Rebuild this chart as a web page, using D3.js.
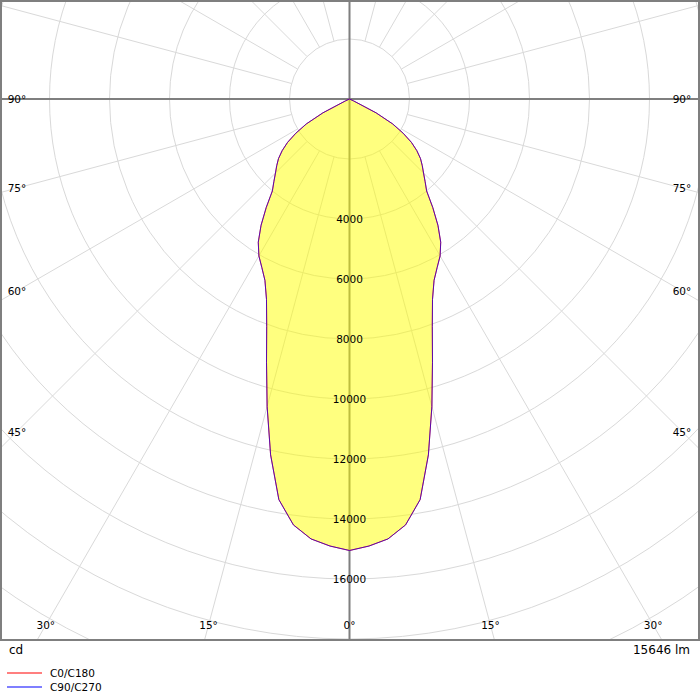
<!DOCTYPE html>
<html>
<head>
<meta charset="utf-8">
<script src="https://cdn.jsdelivr.net/npm/d3@7"></script>
<style>
html,body{margin:0;padding:0;background:#fff;}
svg{display:block;font-family:"DejaVu Sans",sans-serif;}
</style>
</head>
<body>
<svg id="chart" width="700" height="700"></svg>
<script>
// Gamma angles (degrees from nadir)
const angles = [0,2.5,5,7.5,10,12.5,15,17.5,20,22.5,25,27.5,30,32.5,35,37.5,40,42.5,45,47.5,50,52.5,55,57.5,60,62.5,65,67.5,70,75,80,85,90];
// Luminous intensity (cd)
const c0c180 = [15050,14915,14720,14320,13560,12150,10610,9200,8070,7230,6670,6330,6040,5660,5140,4560,4000,3730,3490,3290,3090,2830,2520,2120,1660,1000,150,0,0,0,0,0,0];
const c90c270 = [15050,14915,14720,14320,13560,12150,10610,9200,8070,7230,6670,6330,6040,5660,5140,4560,4000,3730,3490,3290,3090,2830,2520,2120,1660,1000,150,0,0,0,0,0,0];
const ringValues = [2000,4000,6000,8000,10000,12000,14000,16000,18000,20000,22000];
const ringLabels = [4000,6000,8000,10000,12000,14000,16000];
const spokeAngles = [15,30,45,60,75,105,120,135,150,165,195,210,225,240,255,285,300,315,330,345];
const angleLabels = [0,15,30,45,60,75,90];
const seriesNames = ["C0/C180","C90/C270"];
const seriesColors = ["#ff0000","#0000ff"];
const fluxText = "15646 lm";
const unitText = "cd";

const svg = d3.select("#chart");
const cx = 349.5, cy = 99;
const box = {x:1, y:1, w:698, h:639};
const r = d3.scaleLinear().domain([0,16000]).range([0,480]);
const rad = d => d*Math.PI/180;

svg.append("defs").append("clipPath").attr("id","clip")
  .append("rect").attr("x",box.x).attr("y",box.y).attr("width",box.w).attr("height",box.h);

const grid = svg.append("g").attr("clip-path","url(#clip)");
const g = grid.append("g").attr("transform",`translate(${cx},${cy})`);

// rings
g.selectAll("circle.ring").data(ringValues).join("circle")
  .attr("r", d=>r(d)).attr("fill","none").attr("stroke","#d9d9d9").attr("stroke-width",1);

// spokes
g.selectAll("line.spoke").data(spokeAngles).join("line")
  .attr("x1", d=>r(2000)*Math.sin(rad(d))).attr("y1", d=>r(2000)*Math.cos(rad(d)))
  .attr("x2", d=>1200*Math.sin(rad(d))).attr("y2", d=>1200*Math.cos(rad(d)))
  .attr("stroke","#d9d9d9").attr("stroke-width",1);

// main axes
grid.append("line").attr("x1",0).attr("x2",700).attr("y1",cy).attr("y2",cy)
  .attr("stroke","#7f7f7f").attr("stroke-width",2);
grid.append("line").attr("x1",cx).attr("x2",cx).attr("y1",0).attr("y2",640)
  .attr("stroke","#7f7f7f").attr("stroke-width",2);

// curves
function curvePoints(vals){
  const pts = [];
  for(let i=angles.length-1;i>=0;i--) pts.push({a: Math.PI + rad(angles[i]), v: vals[i]});
  for(let i=1;i<angles.length;i++) pts.push({a: Math.PI - rad(angles[i]), v: vals[i]});
  return pts;
}
const lineGen = d3.lineRadial().angle(d=>d.a).radius(d=>r(d.v)).curve(d3.curveLinearClosed);
const series = [c0c180, c90c270];
const pg = svg.append("g").attr("clip-path","url(#clip)").append("g").attr("transform",`translate(${cx},${cy})`);
series.forEach((vals)=>{
  pg.append("path").attr("d", lineGen(curvePoints(vals)))
    .attr("fill","#ffff00").attr("fill-opacity",0.293).attr("stroke","none");
});
series.forEach((vals,i)=>{
  pg.append("path").attr("d", lineGen(curvePoints(vals)))
    .attr("fill","none").attr("stroke",seriesColors[i]).attr("stroke-opacity",i===0?0.9:0.65)
    .attr("stroke-width",1).attr("stroke-linejoin","round");
});

// border
svg.append("rect").attr("x",box.x).attr("y",box.y).attr("width",box.w).attr("height",box.h)
  .attr("fill","none").attr("stroke","#7f7f7f").attr("stroke-width",2);

// ring labels
svg.append("g").selectAll("text").data(ringLabels).join("text")
  .attr("x",cx).attr("y",d=>cy+r(d)).attr("text-anchor","middle").attr("dominant-baseline","central")
  .attr("font-size","10.5px").attr("fill","#000").text(d=>d);

// angle labels
const inL = 17, inR = 682, inB = 625;
const lab = [];
angleLabels.forEach(a=>{
  const sides = a===0 ? [1] : [-1,1];
  sides.forEach(s=>{
    const sa = Math.sin(rad(a)), ca = Math.cos(rad(a));
    let x, y;
    if (sa>0){
      const t = (s<0 ? cx-inL : inR-cx)/sa;
      x = cx + s*t*sa; y = cy + t*ca;
      if (y>inB){ const t2=(inB-cy)/ca; x = cx + s*t2*sa; y = inB; }
    } else { x = cx; y = inB; }
    lab.push({x,y,t:a+"°"});
  });
});
svg.append("g").selectAll("text").data(lab).join("text")
  .attr("x",d=>d.x).attr("y",d=>d.y).attr("text-anchor","middle").attr("dominant-baseline","central")
  .attr("font-size","10.5px").attr("fill","#000").text(d=>d.t);

// unit and flux
svg.append("text").attr("x",9).attr("y",650).attr("dominant-baseline","central")
  .attr("font-size","12px").attr("fill","#000").text(unitText);
svg.append("text").attr("x",690).attr("y",650).attr("text-anchor","end").attr("dominant-baseline","central")
  .attr("font-size","12px").attr("fill","#000").text(fluxText);

// legend
const lg = svg.append("g").selectAll("g").data(seriesNames).join("g")
  .attr("transform",(d,i)=>`translate(0,${673+i*14})`);
lg.append("line").attr("x1",7).attr("x2",42).attr("y1",0).attr("y2",0)
  .attr("stroke",(d,i)=>seriesColors[i]).attr("stroke-opacity",0.5).attr("stroke-width",2);
lg.append("text").attr("x",50).attr("y",0).attr("dominant-baseline","central")
  .attr("font-size","10.5px").attr("fill","#000").text(d=>d);
</script>
</body>
</html>
